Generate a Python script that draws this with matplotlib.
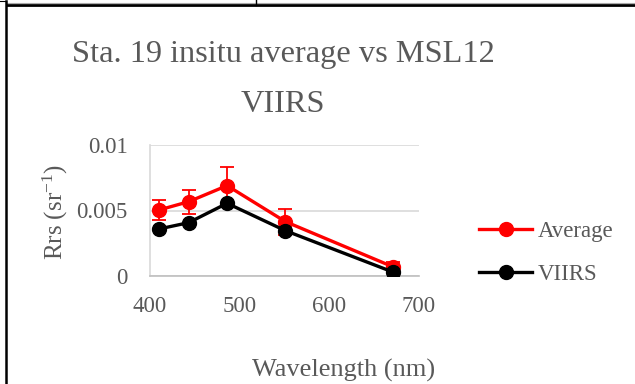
"""
Sta. 19 in situ average vs MSL12 VIIRS
"""

import matplotlib

matplotlib.use("Agg")
import matplotlib.pyplot as plt
from matplotlib.lines import Line2D

GREY = "#595959"

wavelength = [410, 443, 486, 551, 671]
average = [0.00504, 0.00567, 0.00690, 0.00415, 0.00070]
average_err = [0.00075, 0.00090, 0.00145, 0.00100, 0.00040]
viirs = [0.00359, 0.00407, 0.00555, 0.00346, 0.00030]

plt.rcParams["font.family"] = ["Liberation Serif", "DejaVu Serif"]
plt.rcParams["mathtext.fontset"] = "custom"
plt.rcParams["mathtext.rm"] = "Liberation Serif"
plt.rcParams["mathtext.default"] = "regular"

fig = plt.figure(figsize=(6.35, 3.84), dpi=100)
ax = fig.add_axes([150 / 635, 1 - 276 / 384, 269 / 635, 131 / 384])

ax.errorbar(
    wavelength, average, yerr=average_err, fmt="none",
    ecolor="#ff0000", elinewidth=1.3, capsize=5, capthick=1.3, zorder=3,
)
ax.plot(wavelength, average, color="#ff0000", lw=2.4, marker="o",
        ms=10, label="Average", zorder=4)
ax.plot(wavelength, viirs, color="black", lw=2.4, marker="o",
        ms=10, label="VIIRS", zorder=5)

ax.set_xlim(400, 700)
ax.set_ylim(0, 0.01)
ax.set_xticks([400, 500, 600, 700])
ax.set_yticks([0, 0.005, 0.01])
ax.set_yticklabels(["0", "0.005", "0.01"])
ax.grid(axis="y", color="#d9d9d9", lw=1.2)
ax.set_axisbelow(True)
for side in ["top", "right"]:
    ax.spines[side].set_visible(False)
ax.spines["left"].set_color("#d9d9d9")
ax.spines["bottom"].set_color("#bfbfbf")
ax.spines["left"].set_linewidth(1.2)
ax.spines["bottom"].set_linewidth(1.2)
ax.tick_params(length=0, labelsize=16.5, labelcolor=GREY)
ax.tick_params(axis="x", pad=14.5)
ax.tick_params(axis="y", pad=16)

fig.text(55 / 635, 1 - 212 / 384, "Rrs (sr$^{-1}$)", rotation=90,
         ha="center", va="center", fontsize=18, color=GREY)
fig.text(344 / 635, 1 - 370 / 384, "Wavelength (nm)", ha="center",
         va="center", fontsize=19, color=GREY)
fig.text(283 / 635, 1 - 62 / 384, "Sta. 19 insitu average vs MSL12",
         ha="center", va="baseline", fontsize=23.3, color=GREY)
fig.text(283 / 635, 1 - 112 / 384, "VIIRS", ha="center", va="baseline",
         fontsize=23.3, color=GREY)

leg = fig.legend(
    loc="center left", bbox_to_anchor=(470 / 635, 1 - 253 / 384),
    frameon=False, fontsize=16.5, handlelength=2.3, handletextpad=0.25,
    labelspacing=0.95, borderaxespad=0,
)
for t in leg.get_texts():
    t.set_color(GREY)

# table cell borders around the chart
fig.add_artist(Line2D([7 / 635, 1], [1 - 5.3 / 384] * 2, color="black",
                      lw=2, transform=fig.transFigure))
fig.add_artist(Line2D([7 / 635, 1], [1 - 3.3 / 384] * 2, color="#aaaaaa",
                      lw=0.8, transform=fig.transFigure))
fig.add_artist(Line2D([6.2 / 635] * 2, [0, 1 - 1 / 384], color="black",
                      lw=1.8, transform=fig.transFigure))
fig.add_artist(Line2D([0, 6.2 / 635], [1 - 1 / 384] * 2, color="black",
                      lw=0.8, transform=fig.transFigure))
fig.add_artist(Line2D([256 / 635] * 2, [1, 1 - 5 / 384], color="black",
                      lw=1, transform=fig.transFigure))

fig.savefig("out.png", dpi=100)
